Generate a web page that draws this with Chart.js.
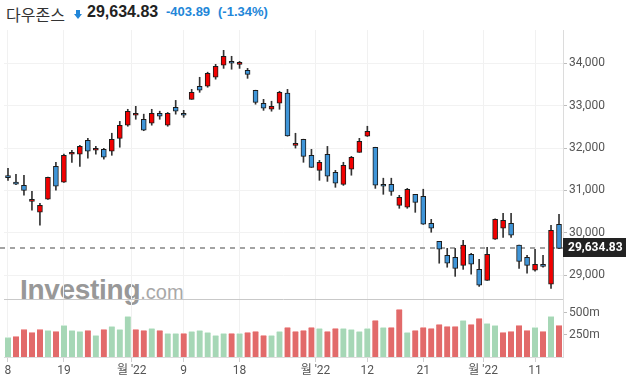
<!DOCTYPE html>
<html lang="ko">
<head>
<meta charset="utf-8">
<title>다우존스</title>
<script src="https://cdn.jsdelivr.net/npm/chart.js@4.4.1/dist/chart.umd.min.js"></script>
<style>
  html, body { margin: 0; padding: 0; background: #fff; }
  #wrap { position: relative; width: 626px; height: 381px; overflow: hidden; }
  #chart { position: absolute; left: 0; top: 0; z-index: 2; }
  .hd { position: absolute; white-space: nowrap; line-height: 20px; }
  #name { left: 6px; top: 2px; font: 16px "Noto Sans CJK KR", sans-serif; color: #333; }
  #stem { position: absolute; left: 76px; top: 10px; width: 4px; height: 5px; background: #2286d8; }
  #tip { position: absolute; left: 74px; top: 14px; width: 0; height: 0;
         border-left: 4px solid transparent; border-right: 4px solid transparent; border-top: 5px solid #2286d8; }
  #last { left: 87px; top: 3px; font: bold 16px "Liberation Sans", Arial, sans-serif; color: #222; }
  #chg { left: 166px; top: 4px; font: bold 13px "Liberation Sans", Arial, sans-serif; color: #2286d8; }
  #pct { left: 218px; top: 4px; font: bold 13px "Liberation Sans", Arial, sans-serif; color: #2286d8; }
  #logo { position: absolute; left: 20px; top: 276px; z-index: 1; white-space: nowrap;
          font: bold 28px/28px "Liberation Sans", Arial, sans-serif; color: #989898; letter-spacing: -0.3px; }
  #logo span { font-weight: normal; font-size: 20px; color: #a8a8a8; letter-spacing: 0; }
</style>
</head>
<body>
<div id="wrap">
  <div class="hd" id="name">다우존스</div>
  <div id="stem"></div><div id="tip"></div>
  <div class="hd" id="last">29,634.83</div>
  <div class="hd" id="chg">-403.89</div>
  <div class="hd" id="pct">(-1.34%)</div>
  <div id="logo">Investing<span>.com</span></div>
  <canvas id="chart" width="626" height="381"></canvas>
</div>
<script>
// daily candles, Jul 8 .. Oct 14
var opens = [31350, 31195, 31120, 30745, 30490, 30795, 31570, 31195, 31855, 31855,
  32185, 31950, 31970, 31925, 32230, 32540, 32775, 32680, 32585, 32820,
  32540, 32960, 32820, 33150, 33455, 33460, 33670, 33955, 34045, 33975,
  33835, 33365, 33055, 32915, 33060, 33295, 32065, 32205, 31830, 31475,
  31855, 31430, 31145, 31500, 31900, 32280, 32020, 31145, 31145, 30650,
  30605, 30910, 30865, 30225, 29800, 29470, 29425, 29235, 29495, 29140,
  28880, 29850, 30110, 30225, 29710, 29425, 29120, 29260, 28790, 30200];
var highs = [31525, 31380, 31360, 30980, 30700, 31315, 31665, 31860, 31950, 32065,
  32230, 32040, 31995, 32350, 32630, 32915, 32985, 32800, 32915, 32870,
  32840, 33125, 32890, 33385, 33670, 33790, 33975, 34305, 34165, 34045,
  33880, 33365, 33150, 33105, 33340, 33385, 32350, 32210, 31970, 31710,
  32040, 31475, 31665, 31805, 32230, 32515, 32020, 31290, 31290, 30887,
  31050, 30910, 31030, 30320, 29800, 29635, 29635, 29825, 29520, 29375,
  29660, 30330, 30460, 30460, 29710, 29470, 29615, 29470, 30180, 30440];
var lows = [31240, 31140, 30890, 30535, 30180, 30790, 31005, 31190, 31665, 31570,
  31760, 31855, 31740, 31830, 32020, 32515, 32680, 32410, 32540, 32680,
  32515, 32800, 32725, 33150, 33315, 33435, 33625, 33880, 33860, 33880,
  33645, 33035, 32890, 32870, 32915, 32280, 32000, 31665, 31545, 31240,
  31215, 31075, 31120, 31360, 31900, 32275, 31050, 30910, 30885, 30580,
  30580, 30485, 30200, 30015, 29285, 29190, 28975, 29140, 29025, 28740,
  28880, 29845, 29895, 29895, 29165, 29050, 29095, 29190, 28690, 29630];
var closes = [31305, 31150, 31000, 30790, 30650, 31310, 31100, 31830, 31900, 32040,
  31925, 31995, 31785, 32205, 32535, 32865, 32820, 32420, 32820, 32750,
  32820, 32870, 32775, 33315, 33365, 33765, 33930, 34165, 34000, 34025,
  33740, 33080, 32940, 32985, 33315, 32285, 32110, 31805, 31545, 31665,
  31335, 31170, 31595, 31785, 32160, 32395, 31125, 31100, 30980, 30840,
  31030, 30720, 30205, 30110, 29615, 29285, 29165, 29710, 29260, 28765,
  29495, 30320, 30295, 29945, 29330, 29235, 29260, 29212, 30060, 29634.83];

// volume in millions, and whether the bar is drawn green
var volumes = [223, 235, 314, 280, 314, 303, 292, 360, 303, 292,
  303, 246, 314, 349, 314, 462, 314, 303, 326, 303,
  269, 269, 269, 292, 303, 280, 246, 269, 269, 269,
  280, 292, 246, 246, 292, 337, 292, 303, 337, 326,
  292, 326, 326, 314, 292, 326, 417, 337, 337, 542,
  280, 303, 337, 326, 371, 349, 349, 417, 371, 439,
  383, 360, 280, 292, 360, 303, 337, 292, 462, 360];
var volUp = [1, 0, 0, 0, 0, 1, 0, 1, 1, 1,
  0, 1, 0, 1, 1, 1, 0, 0, 1, 0,
  1, 1, 0, 1, 1, 1, 1, 1, 0, 1,
  0, 0, 0, 1, 1, 0, 0, 0, 0, 1,
  0, 0, 1, 1, 1, 1, 0, 1, 0, 0,
  1, 0, 0, 0, 0, 0, 0, 1, 0, 0,
  1, 1, 0, 0, 0, 0, 1, 0, 1, 0];

// axis ticks (month labels sit between the last and first day)
var tickPos = [0, 7, 15.5, 22, 29, 38.5, 45, 52, 59.5, 66];
var tickText = ['8', '19', "월 '22", '9', '18', "월 '22", '12', '21', "월 '22", '11'];
var priceTicks = [29000, 30000, 31000, 32000, 33000, 34000];
var volTicks = [250, 500];

var FONT = 'Roboto, "Noto Sans CJK KR", sans-serif';
var RED = '#f20000', BLUE = '#3f95d8';

var idx = closes.map(function(c, i) { return i; });
var wickData = idx.map(function(i) { return {x: i, y: [lows[i], highs[i]]}; });
var bodyData = idx.map(function(i) {
  return {x: i, y: [Math.min(opens[i], closes[i]), Math.max(opens[i], closes[i])]};
});
var bodyColors = idx.map(function(i) { return closes[i] >= opens[i] ? RED : BLUE; });
var volData = idx.map(function(i) { return {x: i, y: volumes[i]}; });
var volColors = volUp.map(function(u) { return u ? '#a6d7b6' : '#e26a6a'; });
var volTops = volUp.map(function(u) { return u ? '#d3eedc' : '#f3aaaa'; });

var lastClose = closes[closes.length - 1];

function fixedTicks(list) {
  return function(s) { s.ticks = list.map(function(v) { return {value: v}; }); };
}

// separator between panes, dashed last price line, price tag on the axis
var overlay = {
  id: 'overlay',
  beforeDatasetsDraw: function(chart) {
    var ctx = chart.ctx, area = chart.chartArea;
    var y = Math.round(chart.scales.y.getPixelForValue(lastClose));
    var top = Math.round(chart.scales.v.top) + 0.5;
    ctx.save();
    ctx.strokeStyle = '#c9c9c9';
    ctx.lineWidth = 1;
    ctx.beginPath();
    ctx.moveTo(area.left, top);
    ctx.lineTo(area.right, top);
    ctx.stroke();
    ctx.setLineDash([5, 5]);
    ctx.strokeStyle = '#a3a3a3';
    ctx.lineWidth = 2;
    ctx.beginPath();
    ctx.moveTo(0, y);
    ctx.lineTo(area.right, y);
    ctx.stroke();
    ctx.restore();
  },
  afterDraw: function(chart) {
    var ctx = chart.ctx, area = chart.chartArea;
    var y = Math.round(chart.scales.y.getPixelForValue(lastClose));
    ctx.save();
    ctx.fillStyle = '#222';
    ctx.fillRect(area.right, y - 10, chart.width - area.right, 19);
    ctx.fillStyle = '#fff';
    ctx.font = 'bold 12px ' + FONT;
    ctx.textBaseline = 'middle';
    ctx.textAlign = 'left';
    ctx.fillText(lastClose.toLocaleString('en-US', {minimumFractionDigits: 2}), area.right + 5, y - 0.5);
    ctx.restore();
  }
};

new Chart(document.getElementById('chart').getContext('2d'), {
  type: 'bar',
  data: {
    datasets: [
      {
        data: bodyData,
        yAxisID: 'y',
        order: 0,
        barThickness: 5,
        minBarLength: 2,
        backgroundColor: bodyColors,
        borderColor: '#1b1b1b',
        borderWidth: 1,
        borderSkipped: false
      },
      {
        data: wickData,
        yAxisID: 'y',
        order: 1,
        barThickness: 1,
        backgroundColor: '#333'
      },
      {
        data: volData,
        yAxisID: 'v',
        order: 2,
        barThickness: 6,
        backgroundColor: volColors,
        borderColor: volTops,
        borderWidth: {top: 1, right: 0, bottom: 0, left: 0}
      }
    ]
  },
  options: {
    responsive: false,
    animation: false,
    devicePixelRatio: 1,
    datasets: {bar: {grouped: false}},
    layout: {padding: {top: 30, left: 4, right: 0, bottom: 0}},
    plugins: {legend: {display: false}, tooltip: {enabled: false}},
    scales: {
      x: {
        type: 'linear',
        min: -0.5,
        max: 69.5,
        offset: false,
        afterBuildTicks: fixedTicks(tickPos),
        afterFit: function(s) { s.height = 24; },
        grid: {offset: false, color: '#f1f1f1', tickColor: '#d0d0d0', tickLength: 5},
        border: {color: '#dcdcdc'},
        ticks: {
          autoSkip: false,
          maxRotation: 0,
          padding: 2,
          color: '#555',
          font: {family: FONT, size: 12},
          callback: function(v, i) { return tickText[i]; }
        }
      },
      y: {
        position: 'right',
        stack: 'pane',
        stackWeight: 269,
        min: 28441,
        max: 34785,
        afterBuildTicks: fixedTicks(priceTicks),
        afterFit: function(s) { s.width = 63; },
        grid: {color: '#f2f2f2', tickColor: '#bdbdbd', tickLength: 4},
        border: {color: '#dcdcdc'},
        ticks: {
          autoSkip: false,
          padding: 2,
          color: '#555',
          font: {family: FONT, size: 12},
          callback: function(v) { return v.toLocaleString('en-US'); }
        }
      },
      v: {
        position: 'right',
        stack: 'pane',
        stackWeight: 58,
        min: 0,
        max: 659,
        afterBuildTicks: fixedTicks(volTicks),
        afterFit: function(s) { s.width = 63; },
        grid: {drawOnChartArea: false, tickColor: '#bdbdbd', tickLength: 4},
        border: {color: '#dcdcdc'},
        ticks: {
          autoSkip: false,
          padding: 2,
          color: '#555',
          font: {family: FONT, size: 12},
          callback: function(v) { return v + 'm'; }
        }
      }
    }
  },
  plugins: [overlay]
});
</script>
</body>
</html>
